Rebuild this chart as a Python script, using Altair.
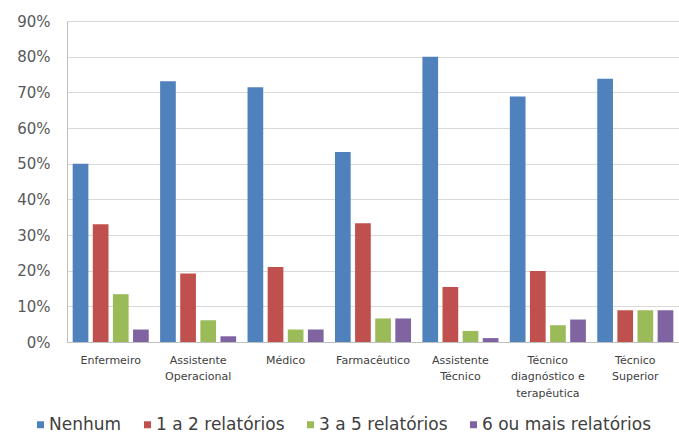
import altair as alt
import pandas as pd

# Profissões (eixo X) e séries de número de relatórios
categorias = [
    "Enfermeiro",
    "Assistente\nOperacional",
    "Médico",
    "Farmacêutico",
    "Assistente\nTécnico",
    "Técnico\ndiagnóstico e\nterapêutica",
    "Técnico\nSuperior",
]
series = ["Nenhum", "1 a 2 relatórios", "3 a 5 relatórios", "6 ou mais relatórios"]
cores = ["#4F81BD", "#C0504D", "#9BBB59", "#8064A2"]

nenhum = [0.500, 0.731, 0.714, 0.533, 0.800, 0.688, 0.738]
um_a_dois = [0.330, 0.192, 0.210, 0.333, 0.154, 0.199, 0.089]
tres_a_cinco = [0.134, 0.061, 0.035, 0.066, 0.031, 0.047, 0.089]
seis_ou_mais = [0.035, 0.016, 0.035, 0.066, 0.011, 0.063, 0.089]

valores = [nenhum, um_a_dois, tres_a_cinco, seis_ou_mais]
linhas = []
for s, vals in zip(series, valores):
    for c, v in zip(categorias, vals):
        linhas.append({"profissao": c, "serie": s, "valor": v})
df = pd.DataFrame(linhas)

fonte = "DejaVu Sans"

chart = (
    alt.Chart(df)
    .mark_bar()
    .encode(
        x=alt.X(
            "profissao:N",
            sort=categorias,
            title=None,
            scale=alt.Scale(paddingInner=0.13, paddingOuter=0.065),
            axis=alt.Axis(
                labelAngle=0,
                labelExpr="split(datum.label, '\\n')",
                labelBaseline="top",
                labelPadding=12,
                labelLineHeight=16.5,
                labelFontSize=11,
                labelColor="#404040",
                labelFont=fonte,
                ticks=False,
                domainColor="#bfbfbf",
            ),
        ),
        xOffset=alt.XOffset(
            "serie:N", sort=series, scale=alt.Scale(paddingInner=0.22, paddingOuter=0)
        ),
        y=alt.Y(
            "valor:Q",
            title=None,
            scale=alt.Scale(domain=[0, 0.9], nice=False),
            axis=alt.Axis(
                format=".0%",
                values=[i / 10 for i in range(10)],
                ticks=False,
                labelPadding=17,
                labelFontSize=15,
                labelColor="#595959",
                labelFont=fonte,
                gridColor="#d9d9d9",
                domainColor="#bfbfbf",
            ),
        ),
        color=alt.Color(
            "serie:N",
            sort=series,
            scale=alt.Scale(domain=series, range=cores),
            legend=alt.Legend(
                title=None,
                orient="none",
                direction="horizontal",
                legendX=-35,
                legendY=395,
                symbolType="square",
                symbolSize=49,
                symbolStrokeWidth=0,
                labelFontSize=17,
                labelFont=fonte,
                labelColor="#404040",
                labelOffset=0,
                labelLimit=300,
                columnPadding=17,
            ),
        ),
    )
    .properties(
        width=612,
        height=321,
        autosize=alt.AutoSizeParams(type="none"),
        padding={"left": 67, "top": 21, "right": 0, "bottom": 93},
    )
    .configure_view(stroke=None)
    .configure(background="white")
)

chart.save("out.html", embed_options={"renderer": "svg", "actions": False})
